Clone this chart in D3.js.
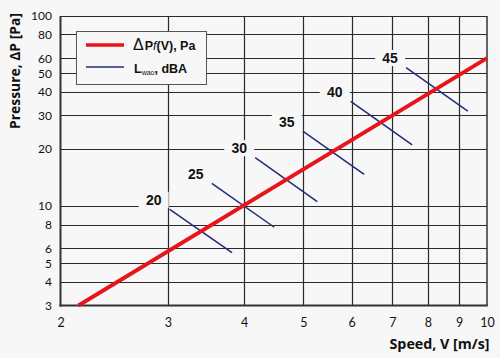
<!DOCTYPE html>
<html><head><meta charset="utf-8">
<script src="https://cdn.jsdelivr.net/npm/d3@7"></script>
<style>
html,body{margin:0;padding:0;background:#f7f7f7;}
svg{display:block;}
</style></head>
<body>
<svg id="chart" width="500" height="358"></svg>
<script>
// ---- data ----
const xTicks = [2, 3, 4, 5, 6, 7, 8, 9, 10];
const yTicks = [3, 4, 5, 6, 8, 10, 20, 30, 40, 50, 60, 80, 100];
const redSpeed = [2.14, 10];
const redPressure = [3, 60];
const noiseLevels = [20, 25, 30, 35, 40, 45];
const noiseStartSpeed = [3.02, 3.54, 4.17, 4.99, 5.98, 7.37];
const noiseStartPressure = [9.62, 13.18, 17.97, 24.8, 35.6, 53.5];
const noiseEndSpeed = [3.82, 4.48, 5.27, 6.29, 7.54, 9.30];
const noiseEndPressure = [5.69, 7.74, 10.55, 14.7, 20.97, 31.6];
const legendLabels = ["P", "L"];

// ---- layout ----
const svg = d3.select("#chart");
const bg = "#f7f7f7";
const pL = 60.5, pR = 487, pT = 16, pB = 305.5;
const x = d3.scaleLog().domain([2, 10]).range([pL, pR]);
const y = d3.scaleLog().domain([3, 100]).range([pB, pT]);
const tickFont = "Lato, 'Open Sans', sans-serif";
const titleFont = "'Open Sans', 'Noto Sans', sans-serif";
const labFont = "'Liberation Sans', Arial, sans-serif";

svg.append("rect").attr("width", 500).attr("height", 358).attr("fill", bg);

// grid
const grid = svg.append("g");
grid.selectAll("line.v").data(xTicks.filter(d => d > 2 && d < 10)).join("line")
  .attr("x1", d => Math.round(x(d)) + 0.5).attr("x2", d => Math.round(x(d)) + 0.5)
  .attr("y1", pT).attr("y2", pB)
  .attr("stroke", "#2a2a2a").attr("stroke-width", 1.2);
grid.selectAll("line.h").data(yTicks.filter(d => d > 3)).join("line")
  .attr("x1", pL).attr("x2", pR)
  .attr("y1", d => Math.round(y(d)) + 0.5).attr("y2", d => Math.round(y(d)) + 0.5)
  .attr("stroke", "#2a2a2a").attr("stroke-width", 1.2);
// frame
svg.append("line").attr("x1", pR).attr("x2", pR).attr("y1", pT).attr("y2", pB)
  .attr("stroke", "#333").attr("stroke-width", 1.5);
svg.append("line").attr("x1", pL).attr("x2", pL).attr("y1", pT).attr("y2", pB + 1)
  .attr("stroke", "#333").attr("stroke-width", 2);
svg.append("line").attr("x1", pL - 1).attr("x2", pR + 0.75).attr("y1", pB).attr("y2", pB)
  .attr("stroke", "#333").attr("stroke-width", 2);

// axes (tick labels only)
const xAxis = d3.axisBottom(x).tickValues(xTicks).tickFormat(d3.format("d")).tickSize(0).tickPadding(0);
const gx = svg.append("g").attr("transform", `translate(0,${pB + 12.5})`).call(xAxis);
gx.select(".domain").remove();
gx.selectAll("text").attr("font-family", tickFont).attr("font-size", 12.5).attr("fill", "#111").attr("dy", "0.71em");

const yAxis = d3.axisLeft(y).tickValues(yTicks).tickFormat(d3.format("d")).tickSize(0).tickPadding(0);
const gy = svg.append("g").attr("transform", `translate(${pL - 8.5},0)`).call(yAxis);
gy.select(".domain").remove();
gy.selectAll("text").attr("font-family", tickFont).attr("font-size", 12).attr("fill", "#111");

// axis titles
svg.append("text").attr("x", 489.5).attr("y", 349).attr("text-anchor", "end")
  .attr("font-family", titleFont).attr("font-weight", "bold").attr("font-size", 14.5).attr("fill", "#111")
  .attr("textLength", 100).attr("lengthAdjust", "spacingAndGlyphs")
  .text("Speed, V [m/s]");
svg.append("text").attr("transform", "translate(19.5,71) rotate(-90)").attr("text-anchor", "middle")
  .attr("font-family", titleFont).attr("font-weight", "bold").attr("font-size", 14.5).attr("fill", "#111")
  .attr("textLength", 116).attr("lengthAdjust", "spacingAndGlyphs")
  .text("Pressure, ΔP [Pa]");

// noise labels with background
const noise = noiseLevels.map((lv, i) => ({
  lv, x1: noiseStartSpeed[i], y1: noiseStartPressure[i], x2: noiseEndSpeed[i], y2: noiseEndPressure[i]
}));
const labs = svg.append("g");
noise.forEach(d => {
  const cx = x(d.x1) - 16, cy = y(d.y1) - 9.5;
  labs.append("rect").attr("x", cx - 15).attr("y", cy - 8).attr("width", 30).attr("height", 16).attr("fill", bg);
  labs.append("text").attr("x", cx).attr("y", cy).attr("dy", "0.36em").attr("text-anchor", "middle")
    .attr("font-family", labFont).attr("font-weight", "bold").attr("font-size", 14).attr("fill", "#111")
    .text(d.lv);
});

// blue lines
svg.append("g").selectAll("line").data(noise).join("line")
  .attr("x1", d => x(d.x1)).attr("y1", d => y(d.y1))
  .attr("x2", d => x(d.x2)).attr("y2", d => y(d.y2))
  .attr("stroke", "#1f2a7c").attr("stroke-width", 1.5);

// red line
const redData = redSpeed.map((s, i) => [s, redPressure[i]]);
svg.append("path").datum(redData)
  .attr("d", d3.line().x(d => x(d[0])).y(d => y(d[1])))
  .attr("fill", "none").attr("stroke", "#e8141c").attr("stroke-width", 3.8);

// legend
const lg = svg.append("g");
lg.append("rect").attr("x", 76.5).attr("y", 31.5).attr("width", 130).attr("height", 53)
  .attr("fill", "#f7f7f7").attr("stroke", "#555").attr("stroke-width", 1);
lg.append("line").attr("x1", 86).attr("x2", 124).attr("y1", 45).attr("y2", 45)
  .attr("stroke", "#e8141c").attr("stroke-width", 3.5);
lg.append("line").attr("x1", 86).attr("x2", 124).attr("y1", 67).attr("y2", 67)
  .attr("stroke", "#1f2a7c").attr("stroke-width", 1.5);
const t1 = lg.append("text").attr("x", 133).attr("y", 50).attr("font-family", labFont)
  .attr("font-weight", "bold").attr("font-size", 12.5).attr("fill", "#111");
t1.append("tspan").attr("font-weight", "normal").attr("font-size", 16).text("Δ");
t1.append("tspan").attr("dx", 1).text(legendLabels[0]);
t1.append("tspan").attr("font-style", "italic").attr("font-weight", "normal").text("f");
t1.append("tspan").text("(V), Pa");
const t2 = lg.append("text").attr("x", 134).attr("y", 73).attr("font-family", labFont)
  .attr("font-weight", "bold").attr("font-size", 12.5).attr("fill", "#111");
t2.append("tspan").text(legendLabels[1]);
t2.append("tspan").attr("font-size", 7).attr("font-weight", "normal").attr("dy", 2).text("wao");
t2.append("tspan").attr("dy", -2).text(", dBA");
</script>
</body></html>
